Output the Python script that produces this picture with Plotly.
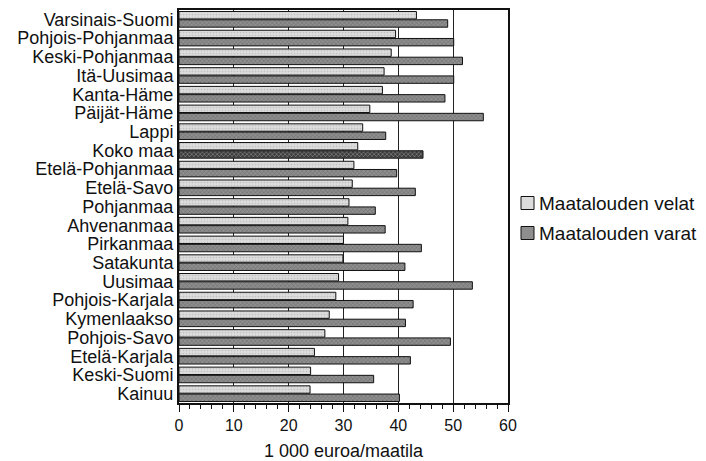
import plotly.graph_objects as go

regions = ["Varsinais-Suomi", "Pohjois-Pohjanmaa", "Keski-Pohjanmaa", "Itä-Uusimaa",
           "Kanta-Häme", "Päijät-Häme", "Lappi", "Koko maa", "Etelä-Pohjanmaa",
           "Etelä-Savo", "Pohjanmaa", "Ahvenanmaa", "Pirkanmaa", "Satakunta",
           "Uusimaa", "Pohjois-Karjala", "Kymenlaakso", "Pohjois-Savo",
           "Etelä-Karjala", "Keski-Suomi", "Kainuu"]
velat = [43.3, 39.5, 38.7, 37.4, 37.1, 34.8, 33.5, 32.6, 31.9, 31.6, 31.0,
         30.8, 30.0, 29.9, 29.1, 28.6, 27.4, 26.6, 24.7, 24.0, 23.9]
varat = [49.0, 50.1, 51.7, 50.1, 48.5, 55.5, 37.7, 44.5, 39.7, 43.1, 35.8,
         37.6, 44.2, 41.2, 53.5, 42.7, 41.3, 49.5, 42.2, 35.5, 40.2]
series_names = ["Maatalouden velat", "Maatalouden varat"]

FONT = "Liberation Sans, Arial, sans-serif"
VELAT_BG, VELAT_FG = "#dcdcdc", "#a8a8a8"
VARAT_BG, VARAT_FG = "#8e8e8e", "#5a5a5a"

varat_bg = ["#3c3c3c" if r == "Koko maa" else VARAT_BG for r in regions]
varat_fg = ["#222222" if r == "Koko maa" else VARAT_FG for r in regions]

fig = go.Figure()
fig.add_trace(go.Bar(
    y=regions, x=velat, orientation="h", name=series_names[0],
    marker=dict(color=VELAT_BG, line=dict(color="#111111", width=1),
                pattern=dict(shape=".", bgcolor=VELAT_BG, fgcolor=VELAT_FG,
                             size=3, solidity=0.25)),
))
fig.add_trace(go.Bar(
    y=regions, x=varat, orientation="h", name=series_names[1],
    marker=dict(color=varat_bg, line=dict(color="#111111", width=1),
                pattern=dict(shape="x", bgcolor=varat_bg, fgcolor=varat_fg,
                             size=3, solidity=0.3)),
))

# page has an 8px body margin, so the figure is offset by 8px
OFF = 8
W, H = 706 - OFF, 461 - OFF
L, R, T, B = 179 - OFF, 508 - OFF, 10 - OFF, 403 - OFF
def px(x):
    return (x - OFF - L) / (R - L)
def py(y):
    return (B - (y - OFF)) / (B - T)

shapes, annotations = [], []
for name, bg, yc in [(series_names[0], VELAT_BG, 203), (series_names[1], VARAT_BG, 233)]:
    shapes.append(dict(type="rect", xref="paper", yref="paper",
                       x0=px(521), x1=px(534), y0=py(yc + 6.5), y1=py(yc - 6.5),
                       fillcolor=bg, line=dict(color="#111111", width=1)))
    annotations.append(dict(text=name, xref="paper", yref="paper", x=px(537), y=py(yc),
                            xanchor="left", yanchor="middle", showarrow=False,
                            font=dict(family=FONT, size=19, color="#111111")))

fig.update_layout(
    width=W, height=H,
    margin=dict(l=L, r=W - R, t=T, b=H - B),
    paper_bgcolor="white", plot_bgcolor="white",
    barmode="group", bargap=0.12, bargroupgap=0.1,
    font=dict(family=FONT, size=17, color="#111111"),
    showlegend=False,
    shapes=shapes, annotations=annotations,
    xaxis=dict(range=[0, 60], dtick=10, showgrid=True, gridcolor="#222222",
               gridwidth=1, showline=True, linecolor="#111111", linewidth=1.5,
               mirror=True, ticks="outside", ticklen=7, tickcolor="#111111",
               minor=dict(dtick=2, ticks="outside", ticklen=4, tickcolor="#111111",
                          showgrid=False),
               tickfont=dict(size=16), zeroline=False, automargin=False,
               title=dict(text="1 000 euroa/maatila", font=dict(size=18), standoff=14)),
    yaxis=dict(autorange="reversed", showline=True, linecolor="#111111",
               linewidth=2, mirror=True, ticks="", showgrid=False,
               tickmode="array", tickvals=regions, ticktext=regions,
               tickfont=dict(size=18), automargin=False),
)

fig.write_html("out.html")
